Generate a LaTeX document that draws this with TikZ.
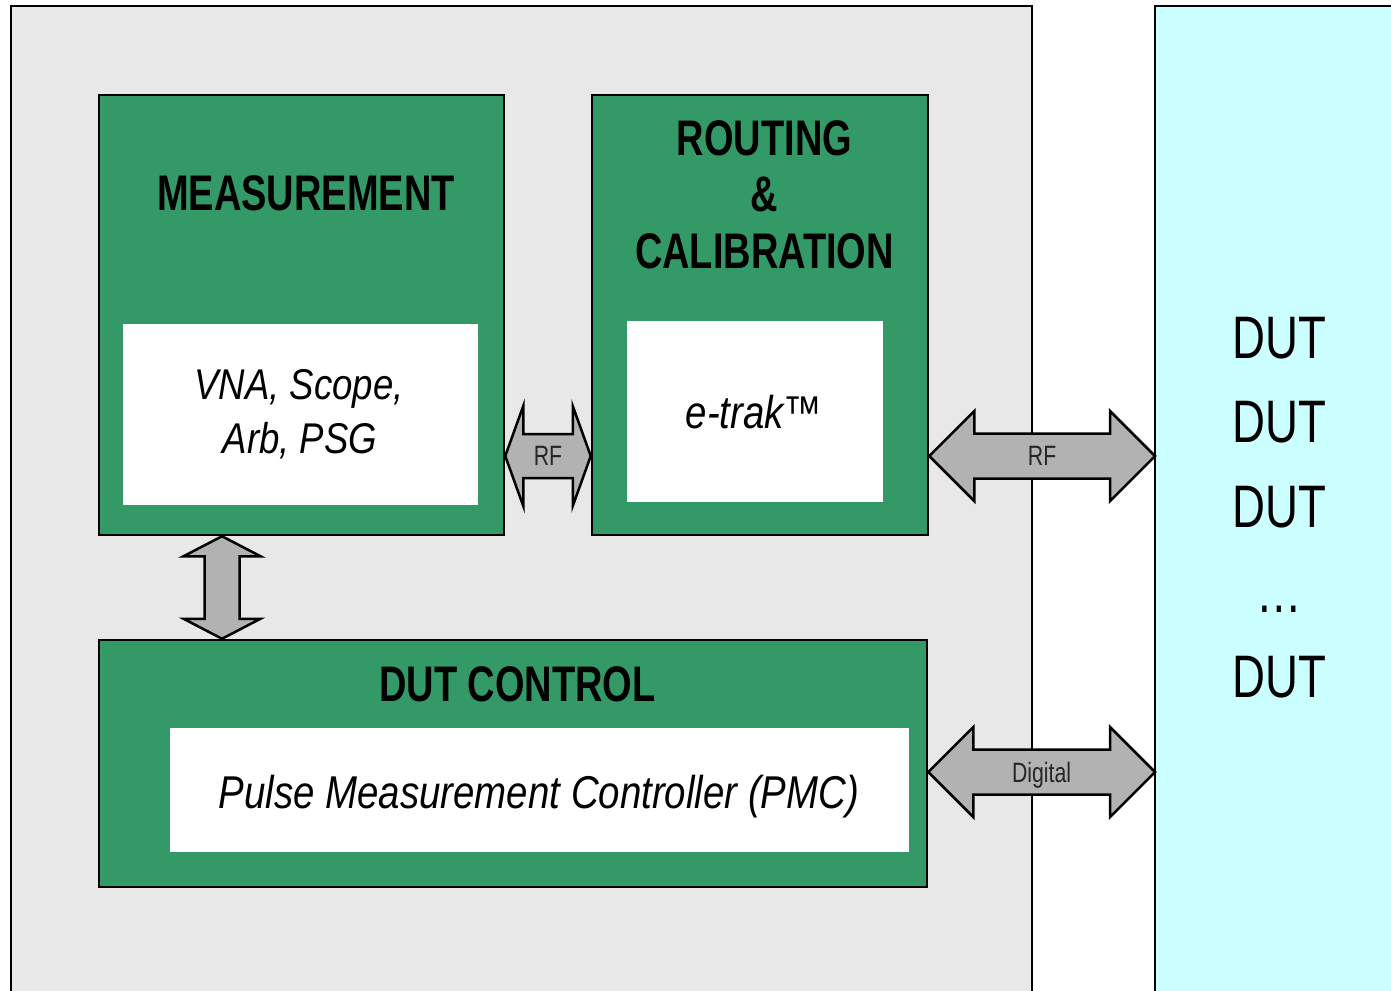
\documentclass[tikz,border=0pt]{standalone}
\usepackage{fontspec}
\usepackage{tikz}
\usetikzlibrary{calc}
\setmainfont{Liberation Sans}
\newfontfamily\narrowsf[FakeStretch=0.76]{Liberation Sans}
\newfontfamily\italsf[FakeStretch=0.835]{Liberation Sans}
\newfontfamily\vnasf[FakeStretch=0.85]{Liberation Sans}
\definecolor{boxgreen}{rgb}{0.20,0.60,0.40}
\definecolor{panelgray}{rgb}{0.91,0.91,0.91}
\definecolor{dutcyan}{rgb}{0.80,1.00,1.00}
\definecolor{arrowgray}{rgb}{0.70,0.70,0.70}

\begin{document}
\begin{tikzpicture}[x=1pt,y=-1pt,line width=2.5pt,line join=miter,
  greenbox/.style={draw=black,fill=boxgreen,inner sep=0pt},
  whitebox/.style={fill=white,inner sep=0pt},
  boxtitle/.style={anchor=base,inner sep=0pt,font=\narrowsf\bfseries\fontsize{50}{60}\selectfont},
  vnatext/.style={anchor=base,inner sep=0pt,font=\vnasf\itshape\fontsize{43}{50}\selectfont},
  ittext/.style={anchor=base,inner sep=0pt,font=\italsf\itshape\fontsize{46}{54}\selectfont},
  duttext/.style={anchor=base,inner sep=0pt,font=\narrowsf\fontsize{60}{70}\selectfont},
  arrowlbl/.style={anchor=base,inner sep=0pt,text=black!85,font=\narrowsf\fontsize{28}{32}\selectfont},
  twoway/.style={draw=black,fill=arrowgray}]
  \useasboundingbox (0,0) rectangle (1391,990);
  % panels
  \coordinate (gl) at (11,6); \coordinate (gr) at (1032,6); \coordinate (cl) at (1155,6);
  \fill[panelgray] (gl) rectangle (1032,1000);
  \fill[dutcyan] (cl) rectangle (1400,1000);
  \draw (11,1000) -- (gl) -- (gr) -- (1032,1000);
  \draw (1155,1000) -- (cl) -- (1400,6);
  % blocks
  \node[greenbox,minimum width=405pt,minimum height=440pt] (meas) at (301.5,315) {};
  \node[whitebox,minimum width=355pt,minimum height=181pt] (measin) at (300.5,414.5) {};
  \node[greenbox,minimum width=336pt,minimum height=440pt] (rout) at (760,315) {};
  \node[whitebox,minimum width=256pt,minimum height=181pt] (routin) at (755,411.5) {};
  \node[greenbox,minimum width=828pt,minimum height=247pt] (ctrl) at (513,763.5) {};
  \node[whitebox,minimum width=739pt,minimum height=124pt] (ctrlin) at (539.5,790) {};
  % texts
  \node[boxtitle] (meast) at (306,210.7) {MEASUREMENT};
  \node[boxtitle] (rout1) at (764.5,155) {ROUTING};
  \node[boxtitle] (rout2) at (764.5,211) {\&};
  \node[boxtitle] (rout3) at (764.5,268) {CALIBRATION};
  \node[boxtitle] (ctrlt) at (517.5,701) {DUT CONTROL};
  \node[vnatext] (vna1) at (299,399) {VNA, Scope,};
  \node[vnatext] (vna2) at (300,453) {Arb, PSG};
  \node[ittext] (etrak) at (754,428) {e-trak™};
  \node[ittext] (pmc) at (539,808) {Pulse Measurement Controller (PMC)};
  \foreach \t [count=\i from 0] in {DUT,DUT,DUT,…,DUT}
    \node[duttext] (dut\i) at (1279.5,{358+84.75*\i}) {\t};
  % arrows
  \coordinate (rfrow) at (0,456); \coordinate (digrow) at (0,772); \coordinate (vcol) at (222,0);
  \coordinate (rfa) at (meas.east |- rfrow); \coordinate (rfb) at (rout.west |- rfrow);
  \coordinate (rfc) at (rout.east |- rfrow); \coordinate (rfd) at (cl |- rfrow);
  \coordinate (dga) at (ctrl.east |- digrow); \coordinate (dgb) at (cl |- digrow);
  \coordinate (vta) at (meas.south -| vcol); \coordinate (vtb) at (ctrl.north -| vcol);
  \draw[twoway] (rfa) -- ($(rfa)+(18,-50)$) -- ($(rfa)+(18,-22)$) -- ($(rfb)+(-18,-22)$) -- ($(rfb)+(-18,-50)$)
    -- (rfb) -- ($(rfb)+(-18,50)$) -- ($(rfb)+(-18,22)$) -- ($(rfa)+(18,22)$) -- ($(rfa)+(18,50)$) -- cycle;
  \draw[twoway] (rfc) -- ($(rfc)+(45,-45)$) -- ($(rfc)+(45,-22.5)$) -- ($(rfd)+(-45,-22.5)$) -- ($(rfd)+(-45,-45)$)
    -- (rfd) -- ($(rfd)+(-45,45)$) -- ($(rfd)+(-45,22.5)$) -- ($(rfc)+(45,22.5)$) -- ($(rfc)+(45,45)$) -- cycle;
  \draw[twoway] (dga) -- ($(dga)+(45,-45)$) -- ($(dga)+(45,-22.5)$) -- ($(dgb)+(-45,-22.5)$) -- ($(dgb)+(-45,-45)$)
    -- (dgb) -- ($(dgb)+(-45,45)$) -- ($(dgb)+(-45,22.5)$) -- ($(dga)+(45,22.5)$) -- ($(dga)+(45,45)$) -- cycle;
  \draw[twoway] (vta) -- ($(vta)+(-38.5,20)$) -- ($(vta)+(-17.5,20)$) -- ($(vtb)+(-17.5,-20)$) -- ($(vtb)+(-38.5,-20)$)
    -- (vtb) -- ($(vtb)+(38.5,-20)$) -- ($(vtb)+(17.5,-20)$) -- ($(vta)+(17.5,20)$) -- ($(vta)+(38.5,20)$) -- cycle;
  \node[arrowlbl] (rflbl1) at ($(rfa)!0.5!(rfb)+(0,9)$) {RF};
  \node[arrowlbl] (rflbl2) at ($(rfc)!0.5!(rfd)+(0,9)$) {RF};
  \node[arrowlbl] (dglbl) at ($(dga)!0.5!(dgb)+(0,10)$) {Digital};
\end{tikzpicture}
\end{document}
